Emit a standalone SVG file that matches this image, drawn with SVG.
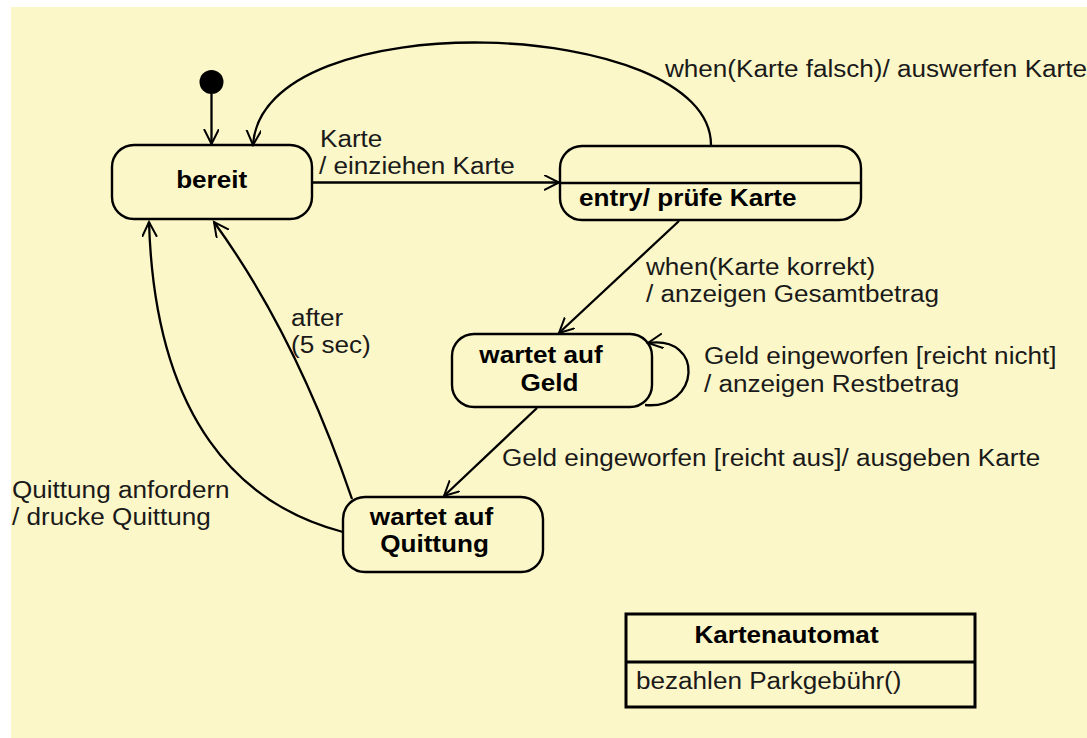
<svg xmlns="http://www.w3.org/2000/svg" width="1087" height="738" viewBox="0 0 1087 738">
<style>
.bg{fill:#fcf7c8}
.st{fill:none;stroke:#000;stroke-width:2.4}
.cls{fill:none;stroke:#000;stroke-width:3}
.ln{fill:none;stroke:#000;stroke-width:2.3}
.t{font-family:"Liberation Sans",Arial,sans-serif;font-size:23px;fill:#1a1a1a}
.b{font-family:"Liberation Sans",Arial,sans-serif;font-size:23px;font-weight:bold;fill:#000}
</style>
<defs>
<marker id="arr" markerUnits="userSpaceOnUse" markerWidth="20" markerHeight="20" viewBox="0 0 20 20" refX="15" refY="7.5" orient="auto">
<path d="M0,0 L15,7.5 L0,15" fill="none" stroke="#000" stroke-width="2"/>
</marker>
</defs>
<rect class="bg" x="11" y="7" width="1076" height="731"/>

<g id="connectors">
<line class="ln" x1="211.5" y1="94" x2="211.5" y2="144" marker-end="url(#arr)"/>
<path class="ln" d="M711 145 C711 17 262 0 253 145" marker-end="url(#arr)"/>
<line class="ln" x1="313" y1="182.5" x2="559" y2="182.5" marker-end="url(#arr)"/>
<line class="ln" x1="679" y1="221" x2="559" y2="333" marker-end="url(#arr)"/>
<path class="ln" d="M645 405 C700 410 705 335 648 343" marker-end="url(#arr)"/>
<line class="ln" x1="537" y1="408" x2="444" y2="496" marker-end="url(#arr)"/>
<path class="ln" d="M352 499 Q296 335 214 222" marker-end="url(#arr)"/>
<path class="ln" d="M343 532 C240 505 155 420 149 222" marker-end="url(#arr)"/>
</g>

<g id="labels">
<text class="t" x="320" y="147" textLength="62.4" lengthAdjust="spacingAndGlyphs">Karte</text>
<text class="t" x="319" y="174" textLength="195.9" lengthAdjust="spacingAndGlyphs">/ einziehen Karte</text>
<text class="t" x="665" y="77" textLength="422" lengthAdjust="spacingAndGlyphs">when(Karte falsch)/ auswerfen Karte</text>
<text class="t" x="646" y="275" textLength="229.2" lengthAdjust="spacingAndGlyphs">when(Karte korrekt)</text>
<text class="t" x="646" y="302" textLength="293.1" lengthAdjust="spacingAndGlyphs">/ anzeigen Gesamtbetrag</text>
<text class="t" x="704" y="364" textLength="352.5" lengthAdjust="spacingAndGlyphs">Geld eingeworfen [reicht nicht]</text>
<text class="t" x="704" y="392" textLength="255.3" lengthAdjust="spacingAndGlyphs">/ anzeigen Restbetrag</text>
<text class="t" x="502" y="466" textLength="538.2" lengthAdjust="spacingAndGlyphs">Geld eingeworfen [reicht aus]/ ausgeben Karte</text>
<text class="t" x="291" y="326" textLength="52.2" lengthAdjust="spacingAndGlyphs">after</text>
<text class="t" x="291" y="353" textLength="79.8" lengthAdjust="spacingAndGlyphs">(5 sec)</text>
<text class="t" x="12" y="498" textLength="217.6" lengthAdjust="spacingAndGlyphs">Quittung anfordern</text>
<text class="t" x="12" y="525" textLength="198.8" lengthAdjust="spacingAndGlyphs">/ drucke Quittung</text>
</g>

<g id="initial">
<circle cx="211.5" cy="82" r="12" fill="#000"/>
</g>

<g id="bereit">
<rect class="st" x="112" y="145" width="200" height="74" rx="22" ry="22"/>
<text class="b" x="211.7" y="188" text-anchor="middle" textLength="71.1" lengthAdjust="spacingAndGlyphs">bereit</text>
</g>

<g id="pruefe">
<rect class="st" x="560" y="146" width="301" height="74" rx="22" ry="22"/>
<line class="st" x1="560" y1="183" x2="861" y2="183"/>
<text class="b" x="579" y="206" textLength="217.5" lengthAdjust="spacingAndGlyphs">entry/ prüfe Karte</text>
</g>

<g id="geld">
<rect class="st" x="452" y="334" width="200" height="73" rx="22" ry="22"/>
<text class="b" x="541" y="363" text-anchor="middle" textLength="123.3" lengthAdjust="spacingAndGlyphs">wartet auf</text>
<text class="b" x="549.5" y="391" text-anchor="middle" textLength="58" lengthAdjust="spacingAndGlyphs">Geld</text>
</g>

<g id="quittung">
<rect class="st" x="343" y="497" width="200" height="75" rx="22" ry="22"/>
<text class="b" x="431.5" y="525" text-anchor="middle" textLength="123.3" lengthAdjust="spacingAndGlyphs">wartet auf</text>
<text class="b" x="434.5" y="552" text-anchor="middle" textLength="108.7" lengthAdjust="spacingAndGlyphs">Quittung</text>
</g>

<g id="kartenautomat">
<rect class="cls" x="626" y="614" width="349" height="93"/>
<line class="cls" x1="626" y1="662" x2="975" y2="662"/>
<text class="b" x="786.5" y="643" text-anchor="middle" textLength="184.2" lengthAdjust="spacingAndGlyphs">Kartenautomat</text>
<text class="t" x="636" y="689" textLength="265.5" lengthAdjust="spacingAndGlyphs">bezahlen Parkgebühr()</text>
</g>
</svg>
